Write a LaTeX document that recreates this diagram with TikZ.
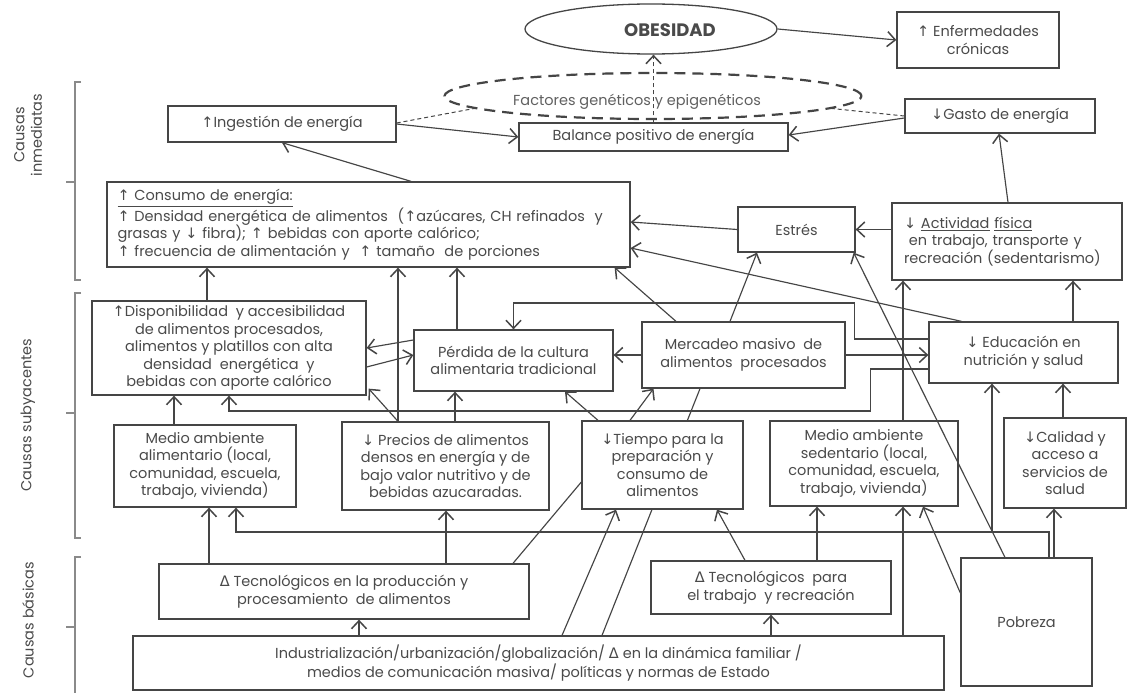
\documentclass[tikz,border=0pt]{standalone}
\usepackage{fontspec}
\setmainfont{Poppins}
\newfontfamily\arrowfont{DejaVu Sans}
\usetikzlibrary{arrows.meta,shapes.geometric,backgrounds}
\definecolor{linec}{HTML}{454545}
\definecolor{textc}{HTML}{4A4A4A}
\definecolor{softtext}{HTML}{606060}
\definecolor{bracketc}{HTML}{8A8A8A}
\newcommand\myup{{\arrowfont ↑}}
\newcommand\mydn{{\arrowfont ↓}}
\newcommand\mydelta{{\arrowfont Δ}}
\newcommand\bodyf{\fontsize{14.5}{17.5}\selectfont}
\begin{document}
\begin{tikzpicture}[x=1pt,y=-1pt,
  box/.style={draw=linec, line width=1.3pt, fill=white, inner sep=0pt, align=center, text=textc, font=\bodyf},
  tip/.style={-{Straight Barb[length=8pt,width=15pt,line width=1.5pt]}},
  conn/.style={draw=linec, line width=1.15pt, tip},
  plain/.style={draw=linec, line width=1.15pt},
  dashconn/.style={draw=linec, line width=1pt, dash pattern=on 4pt off 3pt},
  bracket/.style={draw=bracketc, line width=1.1pt},
  sidelabel/.style={rotate=90, text=textc, font=\bodyf, align=center}]
\useasboundingbox (0,0) rectangle (1127,693);

% ---- top: outcome and energy balance ----
\node[draw=linec, line width=1.3pt, fill=white, ellipse, minimum width=252pt, minimum height=50pt, inner sep=0pt] (obes) at (651,29) {};
\node[text=textc, font=\fontsize{18}{21}\selectfont\bfseries] (obestxt) at (670,30) {OBESIDAD};
\node[box, minimum width=162pt, minimum height=56pt] (enf) at (978,40) {\myup{} Enfermedades\\crónicas};
\node[draw=linec, line width=2.2pt, dash pattern=on 11pt off 7pt, ellipse, minimum width=417pt, minimum height=46pt, inner sep=0pt] (gen) at (653,96) {};
\node[text=softtext, font=\bodyf] (gentxt) at (637,102) {Factores genéticos y epigenéticos};
\node[box, minimum width=228pt, minimum height=36pt] (ing) at (282,124) {\myup{}Ingestión de energía};
\node[box, minimum width=269pt, minimum height=28pt] (bal) at (653.5,137) {Balance positivo de energía};
\node[box, minimum width=190pt, minimum height=34pt] (gasto) at (1000,116) {\mydn{}Gasto de energía};

% ---- immediate causes ----
\node[box, minimum width=523pt, minimum height=85pt, align=left, text width=502pt] (cons) at (368.5,224.5)
  {\underline{\myup{} Consumo de energía:}\\
   \myup{} Densidad energética de alimentos\ \ (\myup{}azúcares, CH refinados\ \ y\\
   grasas y \mydn{} fibra); \myup{} bebidas con aporte calórico;\\
   \myup{} frecuencia de alimentación y\ \ \myup{} tamaño\ \ de porciones};
\node[box, minimum width=117pt, minimum height=45pt] (estres) at (796.5,229.5) {Estrés};
\node[box, minimum width=230pt, minimum height=77pt, align=left, text width=206pt] (act) at (1007,241.5)
  {\mydn{} \underline{Actividad} \underline{física}\\
   \ en trabajo, transporte y\\
   recreación (sedentarismo)};

% ---- underlying causes ----
\node[box, minimum width=274pt, minimum height=94pt] (disp) at (229,348)
  {\myup{}Disponibilidad\ \ y accesibilidad\\de alimentos procesados,\\alimentos y platillos con alta\\densidad\ \ energética\ \ y\\bebidas con aporte calórico};
\node[box, minimum width=199pt, minimum height=61pt] (perd) at (513.5,360.5) {Pérdida de la cultura\\alimentaria tradicional};
\node[box, minimum width=203pt, minimum height=66pt] (merc) at (743.5,355) {Mercadeo masivo\ \ de\\alimentos\ \ procesados};
\node[box, minimum width=189pt, minimum height=61pt] (edu) at (1023.5,352.5) {\mydn{} Educación en\\nutrición y salud};
\node[box, minimum width=182pt, minimum height=82pt] (medioal) at (205,466) {Medio ambiente\\alimentario (local,\\comunidad, escuela,\\trabajo, vivienda)};
\node[box, minimum width=207pt, minimum height=88pt] (precios) at (445.5,466) {\mydn{} Precios de alimentos\\densos en energía y de\\bajo valor nutritivo y de\\bebidas azucaradas.};
\node[box, minimum width=161pt, minimum height=88pt] (tiempo) at (662.5,465) {\mydn{}Tiempo para la\\preparación y\\consumo de\\alimentos};
\node[box, minimum width=188pt, minimum height=85pt] (mediosed) at (864,463.5) {Medio ambiente\\sedentario (local,\\comunidad, escuela,\\trabajo, vivienda)};
\node[box, minimum width=122pt, minimum height=90pt] (calidad) at (1065,463) {\mydn{}Calidad y\\acceso a\\servicios de\\salud};

% ---- basic causes ----
\node[box, minimum width=370pt, minimum height=55pt] (tecprod) at (344,591.5) {\mydelta{} Tecnológicos en la producción y\\procesamiento\ \ de alimentos};
\node[box, minimum width=240pt, minimum height=53pt] (tectrab) at (771,587.5) {\mydelta{} Tecnológicos\ \ para\\el trabajo\ \ y recreación};
\node[box, minimum width=131pt, minimum height=128pt] (pobreza) at (1026.5,622) {Pobreza};
\node[box, minimum width=811pt, minimum height=54pt] (ind) at (538.5,663)
  {Industrialización/urbanización/globalización/ \mydelta{} en la dinámica familiar /\\medios de comunicación masiva/ políticas y normas de Estado};

\coordinate (povlevel) at (0,532);

% ---- connectors (behind the boxes) ----
\begin{scope}[on background layer]
\fill[white] (0,0) rectangle (1127,693);
\draw[conn] (obes.east) -- (enf.west);
\draw[dashconn, tip] (bal.north) -- (bal.north |- obes.south);
\draw[dashconn] ([yshift=1pt]ing.east) -- (gen.184);
\draw[dashconn] (gasto.west) -- (gen.356);
\draw[conn] (ing.east) -- (bal.west);
\draw[conn] ([yshift=-2pt]gasto.west) -- ([yshift=2pt]bal.east);
\draw[conn] ([xshift=42.5pt]cons.north) -- (ing.south);
\draw[conn] ([xshift=1pt]act.north) -- ([xshift=-1pt]gasto.south);
\draw[conn] (estres.west) -- ([yshift=2.5pt]cons.east);
\draw[conn] (act.west |- estres.east) -- (estres.east);
\draw[conn] ([xshift=-62pt]edu.north) -- ([yshift=-23.5pt]cons.east);
\draw[conn] ([xshift=-13.5pt]merc.north) -- ([xshift=-39.5pt]estres.south);
\draw[conn] ([xshift=-67.5pt]merc.north) -- ([xshift=-16pt]cons.south east);
\draw[conn] ([xshift=-22pt]disp.north) -- ([xshift=-22pt]disp.north |- cons.south);
\draw[conn] ([xshift=-47.5pt]precios.north) -- ([xshift=-47.5pt]precios.north |- cons.south);
\draw[conn] ([xshift=-56.5pt]perd.north) -- ([xshift=-56.5pt]perd.north |- cons.south);
\draw[conn] ([yshift=20.5pt]perd.west) -- (disp.east);
\draw[conn] ([yshift=-19pt]disp.east) -- ([yshift=5.5pt]perd.west);
\draw[conn] (merc.west) -- (merc.west -| perd.east);
\draw[conn] ([yshift=13.5pt]edu.west) -- ++(-74,0) -- ++(0,-36) -| (perd.north);
\draw[conn] (merc.east) -- (merc.east -| edu.west);
\draw[conn] ([yshift=-16.5pt]edu.west) -- ++(-58,0) -- ++(0,42) -| (disp.south);
\draw[conn] ([xshift=-31pt]medioal.north) -- ([xshift=-31pt]medioal.north |- disp.south);
\draw[conn] ([xshift=-47.5pt]precios.north) -- ([xshift=2pt,yshift=7pt]disp.south east);
\draw[conn] ([xshift=9.5pt]precios.north) -- ([xshift=9.5pt]precios.north |- perd.south);
\draw[conn] ([xshift=-64.5pt]tiempo.north) -- ([xshift=51.5pt]perd.south);
\draw[conn] ([xshift=-32.5pt]tiempo.north) -- ([xshift=-90pt]merc.south);
\draw[plain] ([xshift=63.5pt]ind.north) -- ([xshift=-43.5pt]merc.south);
\draw[conn] ([xshift=23.5pt]ind.north) -- ([xshift=-46.5pt]tiempo.south);
\draw[plain] ([xshift=169pt]tecprod.north) -- ([yshift=-17pt]tiempo.west);
\draw[conn] ([xshift=-135pt]tecprod.north) -- ([xshift=-135pt]tecprod.north |- medioal.south);
\draw[conn] ([xshift=102pt]tecprod.north) -- ([xshift=102pt]tecprod.north |- precios.south);
\draw[conn] ([xshift=15pt]tecprod.south |- ind.north) -- ([xshift=15pt]tecprod.south);
\draw[conn] (tectrab.south |- ind.north) -- (tectrab.south);
\draw[conn] ([xshift=-26pt]tectrab.north) -- ([xshift=54.5pt]tiempo.south);
\draw[conn] ([xshift=46pt]tectrab.north) -- ([xshift=46pt]tectrab.north |- mediosed.south);
\draw[conn] ([xshift=39pt]mediosed.south |- ind.north) -- ([xshift=39pt]mediosed.south);
\draw[conn] ([yshift=29pt]pobreza.west) -- ([xshift=59pt]mediosed.south);
\draw[conn] ([xshift=39pt]mediosed.north) -- ([xshift=39pt]mediosed.north |- act.south);
\draw[conn] ([xshift=49.5pt]edu.north) -- ([xshift=49.5pt]edu.north |- act.south);
\draw[conn] ([xshift=-2pt]calidad.north) -- ([xshift=-2pt]calidad.north |- edu.south);
\draw[conn] ([xshift=27.5pt]pobreza.north) -- ([xshift=27.5pt]pobreza.north |- calidad.south);
\draw[conn] ([xshift=22.5pt]pobreza.north) -- ([xshift=22.5pt]pobreza.north |- povlevel) -| ([xshift=31pt]medioal.south);
\draw[conn] ([xshift=-31.5pt]edu.south |- povlevel) -- ([xshift=-31.5pt]edu.south);
\end{scope}

% long link from poverty to stress, drawn over the sedentary box
\draw[conn] ([xshift=-21.5pt]pobreza.north) -- ([xshift=-2pt]estres.south east);

% ---- level brackets and labels ----
\draw[bracket] (81,82) -- (75,82) -- (75,280) -- (81,280);
\draw[bracket] (75,182) -- (66,182);
\draw[bracket] (81,293) -- (75,293) -- (75,538) -- (81,538);
\draw[bracket] (75,413) -- (66,413);
\draw[bracket] (81,557) -- (75,557) -- (75,693);
\draw[bracket] (75,627) -- (66,627);
\node[sidelabel] (lblinm) at (28,135) {Causas\\inmediatas};
\node[sidelabel] (lblsub) at (28,415) {Causas subyacentes};
\node[sidelabel] (lblbas) at (28,620) {Causas básicas};
\end{tikzpicture}
\end{document}
